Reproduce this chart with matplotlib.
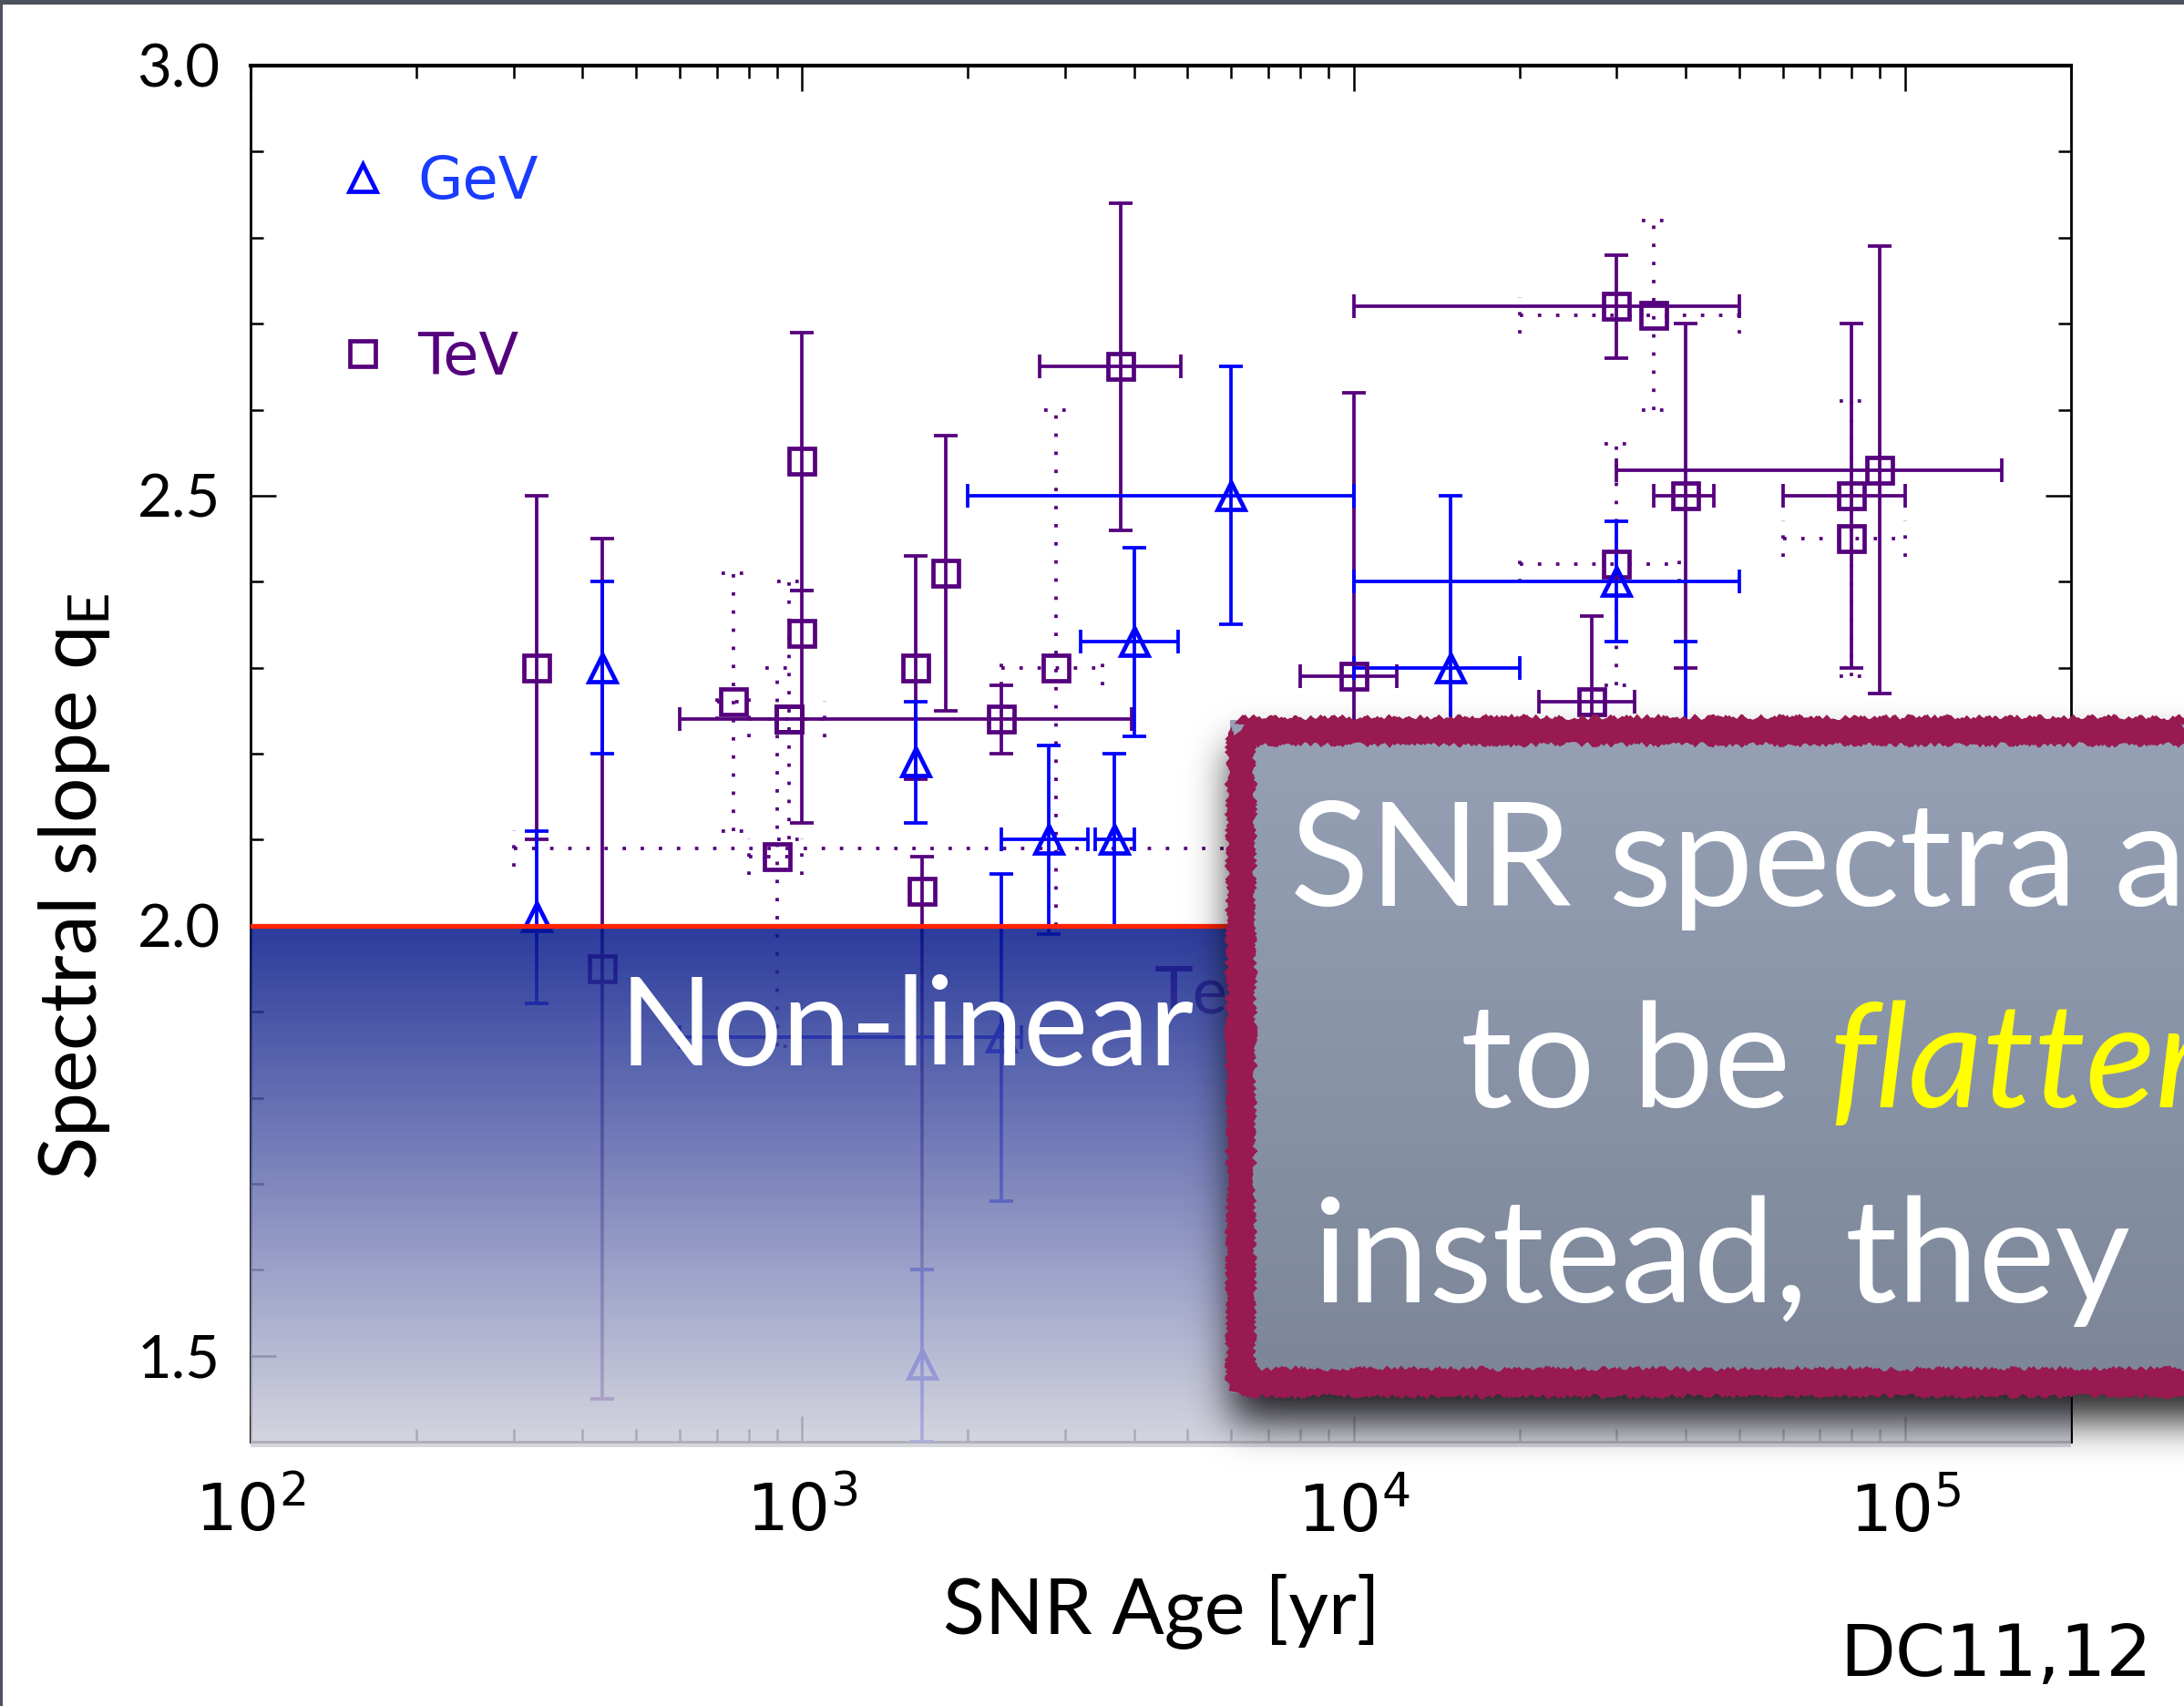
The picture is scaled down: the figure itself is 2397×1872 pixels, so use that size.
import math
import numpy as np
import matplotlib
matplotlib.use('Agg')
import matplotlib.pyplot as plt
from matplotlib.lines import Line2D
from matplotlib.patches import Rectangle
from matplotlib.ticker import LogLocator, MultipleLocator, FuncFormatter, NullFormatter

W, H, DPI = 2397, 1872, 100

plt.rcParams['font.family'] = ['Lato', 'DejaVu Sans']
plt.rcParams['mathtext.fontset'] = 'custom'
plt.rcParams['mathtext.rm'] = 'Lato'
plt.rcParams['mathtext.sf'] = 'Liberation Sans Narrow'

GEV = '#0000ff'
TEV = '#55007d'
NARROW = ['Liberation Sans Narrow', 'DejaVu Sans']
DOT = (0, (1.0, 4.3))

# GeV measurements (triangles): SNR age [yr], slope q_E and their ranges
gev_age = [330, 435, 1610, 2800, 3680, 4000, 6000, 15000, 30000, 40000, 1650, 2300]
gev_age_lo = [330, 435, 1610, 2300, 3400, 3200, 2000, 10000, 10000, 40000, 1650, 600]
gev_age_hi = [330, 435, 1610, 3300, 4000, 4800, 10000, 20000, 50000, 40000, 1650, 2500]
gev_q = [2.01, 2.30, 2.19, 2.10, 2.10, 2.33, 2.50, 2.30, 2.40, 2.20, 1.49, 1.87]
gev_q_lo = [1.91, 2.20, 2.12, 1.99, 2.00, 2.22, 2.35, 2.10, 2.33, 2.07, 1.40, 1.68]
gev_q_hi = [2.11, 2.40, 2.26, 2.21, 2.20, 2.44, 2.65, 2.50, 2.47, 2.33, 1.60, 2.06]

# TeV measurements (squares)
tev_age = [330, 435, 948, 1000, 1000, 1610, 1820, 2300, 1650, 3790, 10000, 30000, 40000, 27000, 80000, 90000]
tev_age_lo = [330, 435, 600, 1000, 1000, 1610, 1820, 2300, 1650, 2700, 8000, 10000, 35000, 21700, 60000, 30000]
tev_age_hi = [330, 435, 3960, 1000, 1000, 1610, 1820, 2300, 1650, 4860, 12000, 50000, 45000, 32300, 100000, 150000]
tev_q = [2.30, 1.95, 2.24, 2.54, 2.34, 2.30, 2.41, 2.24, 2.04, 2.65, 2.29, 2.72, 2.50, 2.26, 2.50, 2.53]
tev_q_lo = [2.10, 1.45, 2.24, 2.39, 2.12, 2.17, 2.25, 2.20, 1.60, 2.46, 2.10, 2.66, 2.30, 2.10, 2.30, 2.27]
tev_q_hi = [2.50, 2.45, 2.24, 2.69, 2.39, 2.43, 2.57, 2.28, 2.08, 2.84, 2.62, 2.78, 2.70, 2.36, 2.70, 2.79]

# TeV measurements with alternative (dotted) ranges
tevd_age = [750, 948, 902, 2885, 35000, 30000, 80000, 8000]
tevd_age_lo = [700, 800, 800, 2300, 20000, 20000, 60000, 300]
tevd_age_hi = [800, 1100, 1000, 3500, 50000, 39000, 100000, 20000]
tevd_q = [2.26, 2.24, 2.08, 2.30, 2.71, 2.42, 2.45, 2.09]
tevd_q_lo = [2.11, 2.10, 1.86, 2.00, 2.60, 2.28, 2.29, 2.09]
tevd_q_hi = [2.41, 2.40, 2.30, 2.60, 2.82, 2.56, 2.61, 2.09]

fig = plt.figure(figsize=(W / DPI, H / DPI), dpi=DPI)
fig.patch.set_facecolor('white')
ax = fig.add_axes([275 / W, 1 - 1582 / H, 1998 / W, 1510 / H])
ax.set_xscale('log')
ax.set_xlim(1e2, 2e5)
ax.set_ylim(1.4, 3.0)

LW = 2.7
MEW = 3.4


def err_set(age, q, age_lo, age_hi, q_lo, q_hi, marker, color, ms, ls='-'):
    age, q = np.asarray(age, float), np.asarray(q, float)
    age_lo, age_hi = np.asarray(age_lo, float), np.asarray(age_hi, float)
    q_lo, q_hi = np.asarray(q_lo, float), np.asarray(q_hi, float)
    solid = ls == '-'
    kw = dict(fmt='none', ecolor=color, elinewidth=LW,
              capsize=9.4 if solid else 0, capthick=LW, zorder=3)
    hy = q_hi > q_lo
    hx = age_hi > age_lo
    if hy.any():
        eb = ax.errorbar(age[hy], q[hy], yerr=[q[hy] - q_lo[hy], q_hi[hy] - q[hy]], **kw)
        for lc in eb[2]:
            lc.set_linestyle(ls)
    if hx.any():
        eb = ax.errorbar(age[hx], q[hx], xerr=[age[hx] - age_lo[hx], age_hi[hx] - age[hx]], **kw)
        for lc in eb[2]:
            lc.set_linestyle(ls)
    if not solid:
        # short dotted caps
        f = 10 ** (13 / 605)
        for yv in (q_lo[hy], q_hi[hy]):
            ax.hlines(yv, age[hy] / f, age[hy] * f, colors=color, linestyles=ls, lw=LW, zorder=3)
        for xv in (age_lo[hx], age_hi[hx]):
            ax.vlines(xv, q[hx] - 0.021, q[hx] + 0.021, colors=color, linestyles=ls, lw=LW, zorder=3)
    ax.plot(age, q, ls='none', marker=marker, ms=ms, mfc='none', mec=color, mew=MEW, zorder=4)


err_set(tevd_age, tevd_q, tevd_age_lo, tevd_age_hi, tevd_q_lo, tevd_q_hi, 's', TEV, 20, DOT)
err_set(tev_age, tev_q, tev_age_lo, tev_age_hi, tev_q_lo, tev_q_hi, 's', TEV, 20)
err_set(gev_age, gev_q, gev_age_lo, gev_age_hi, gev_q_lo, gev_q_hi, '^', GEV, 21)

# label partly hidden behind the box
ax.text(4.36e3, 1.899, 'TeV', color=TEV, fontsize=52, va='baseline', zorder=3)

# axes styling
for side, sp in ax.spines.items():
    sp.set_linewidth(3.0 if side == 'top' else 2.0)
ax.xaxis.set_major_locator(LogLocator(base=10))
ax.xaxis.set_minor_locator(LogLocator(base=10, subs=np.arange(2, 10)))
ax.xaxis.set_major_formatter(FuncFormatter(lambda v, p: r'$\mathsf{10^{%d}}$' % round(math.log10(v))))
ax.xaxis.set_minor_formatter(NullFormatter())
ax.yaxis.set_major_locator(MultipleLocator(0.5))
ax.yaxis.set_minor_locator(MultipleLocator(0.1))
ax.yaxis.set_major_formatter(FuncFormatter(lambda v, p: '%.1f' % v))
ax.tick_params(which='both', direction='in', top=True, right=True, width=1.8)
ax.tick_params(which='major', length=20)
ax.tick_params(which='minor', length=10)
ax.tick_params(axis='x', which='major', labelsize=52, pad=28)
ax.tick_params(axis='y', which='major', labelsize=47, pad=24)

# legend
h_gev = Line2D([], [], ls='none', marker='^', ms=21, mfc='none', mec=GEV, mew=MEW)
h_tev = Line2D([], [], ls='none', marker='s', ms=20, mfc='none', mec=TEV, mew=MEW)
leg = ax.legend([h_gev, h_tev], ['GeV', 'TeV'], loc='upper left', bbox_to_anchor=(0.0486, 0.936),
                frameon=False, prop={'family': NARROW, 'size': 46}, labelspacing=2.05,
                handlelength=0.8, handletextpad=0.55, borderpad=0, borderaxespad=0, numpoints=1)
for t, c in zip(leg.get_texts(), ['#1a3cff', TEV]):
    t.set_color(c)

# non-linear regime below q = 2: shaded band and the q = 2 line
y2 = ax.transAxes.inverted().transform(ax.transData.transform((1e2, 2.0)))[1]
top_c = np.array([5, 24, 138]) / 255
bot_c = np.array([207, 207, 218]) / 255
t = np.linspace(0, 1, 256)[:, None]
grad = np.zeros((256, 1, 4))
grad[:, 0, :3] = top_c * (1 - t) + bot_c * t
grad[:, 0, 3] = 0.85
ax.imshow(grad, extent=[0, 1, -0.004, y2], transform=ax.transAxes, aspect='auto',
          interpolation='bilinear', zorder=5, clip_on=False)
ax.axhline(2.0, color='#ff2200', lw=3.8, zorder=7)
ax.set_xlim(1e2, 2e5)
ax.set_ylim(1.4, 3.0)

# overlay in pixel coordinates for the slide elements
ov = fig.add_axes([0, 0, 1, 1], zorder=10)
ov.axis('off')
ov.patch.set_visible(False)

ov.text(680, 1169, 'Non-linear', color='white', fontsize=97, va='baseline', ha='left')

# soft drop shadow of the callout box
bx0, by0, by1 = 1350, 790, 1529
step = 4
xs = np.arange(0, W, step) + step / 2
ys = np.arange(0, H, step) + step / 2
erf = np.vectorize(math.erf)


def soft_edge(v, a, b, s):
    return 0.5 * (erf((v - a) / (s * math.sqrt(2))) - erf((v - b) / (s * math.sqrt(2))))


mask = np.outer(soft_edge(ys, by0 + 30, by1 + 30, 22), soft_edge(xs, bx0 + 4, W + 300, 22))
shadow = np.zeros(mask.shape + (4,))
shadow[..., 3] = 0.85 * mask
ov.imshow(shadow, extent=[0, W, H, 0], aspect='auto', interpolation='bilinear', zorder=1)

# box fill
fill_top = np.array([150, 161, 182]) / 255
fill_bot = np.array([124, 134, 152]) / 255
tb = np.linspace(0, 1, 128)[:, None]
fill = np.zeros((128, 1, 3))
fill[:, 0, :] = fill_top * (1 - tb) + fill_bot * tb
ov.imshow(fill, extent=[bx0, W + 60, by1, by0], aspect='auto', interpolation='bilinear', zorder=2)
border = Rectangle((bx0 + 12, by0 + 12), W + 100 - bx0, by1 - by0 - 24, fill=False,
                   ec='#981a50', lw=17, joinstyle='miter', zorder=3)
border.set_sketch_params(scale=0.6, length=2, randomness=1.5)
ov.add_patch(border)

ov.text(1416, 994, 'SNR spectra are', color='white', fontsize=115, va='baseline', ha='left', zorder=4)
ov.text(1603, 1215, 'to be', color='white', fontsize=115, va='baseline', ha='left', zorder=4)
ov.text(2008, 1215, 'flatter', color='#ffff00', fontsize=115, style='italic',
        va='baseline', ha='left', zorder=4)
ov.text(1441, 1429, 'instead, they', color='white', fontsize=115, va='baseline', ha='left', zorder=4)

# axis titles and reference
ov.text(1275, 1792, 'SNR Age [yr]', fontsize=61, ha='center', va='baseline', zorder=4)
ov.text(106, 973, r'Spectral slope q$_\mathrm{E}$', fontsize=63, rotation=90,
        rotation_mode='anchor', ha='center', va='baseline', zorder=4)
ov.text(2362, 1839, 'DC11,12', fontsize=57, family=NARROW, ha='right', va='baseline', zorder=4)

# slide frame edges
ov.add_patch(Rectangle((0, 0), W, 5, color='#4d525e', lw=0, zorder=5))
ov.add_patch(Rectangle((0, 0), 3, H, color='#4d525e', lw=0, zorder=5))

ov.set_xlim(0, W)
ov.set_ylim(H, 0)

fig.savefig('out.png', dpi=DPI, facecolor='white')
